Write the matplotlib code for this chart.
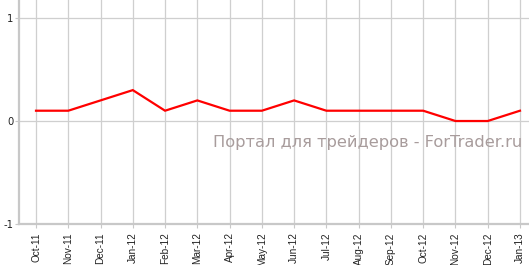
import matplotlib
matplotlib.use("Agg")
import matplotlib.pyplot as plt

categories = ["Oct-11", "Nov-11", "Dec-11", "Jan-12", "Feb-12", "Mar-12", "Apr-12", "May-12",
              "Jun-12", "Jul-12", "Aug-12", "Sep-12", "Oct-12", "Nov-12", "Dec-12", "Jan-13"]
values = [0.1, 0.1, 0.2, 0.3, 0.1, 0.2, 0.1, 0.1, 0.2, 0.1, 0.1, 0.1, 0.1, 0.0, 0.0, 0.1]
y_ticks = [-1, 0, 1]
watermark = "Портал для трейдеров - ForTrader.ru"

W, H = 529, 265
fig = plt.figure(figsize=(W / 100, H / 100), dpi=100)
ax = fig.add_axes([19 / W, 1 - 224 / H, 1 - 19 / W, 224 / H])

x = list(range(len(categories)))
ax.plot(x, values, color="#ff0000", lw=1.6, zorder=3, solid_joinstyle="miter")

ax.set_xlim(-0.527, 15.28)
ax.set_ylim(-1, 1.175)
ax.set_xticks(x)
ax.set_xticklabels(categories, rotation=90, fontsize=7.2, family="Liberation Sans", color="#222222")
ax.set_yticks(y_ticks)
ax.set_yticklabels([str(v) for v in y_ticks], fontsize=7.2, family="DejaVu Sans", color="#222222")

ax.grid(True, color="#cfcfcf", lw=0.9)
ax.set_axisbelow(True)
for s in ["top", "right"]:
    ax.spines[s].set_visible(False)
for s in ["left", "bottom"]:
    ax.spines[s].set_color("#c8c8c8")
    ax.spines[s].set_linewidth(1.6)
ax.tick_params(axis="both", length=3, color="#c8c8c8", width=0.8)
ax.tick_params(axis="x", pad=3)
ax.tick_params(axis="y", pad=1)

fig.text(522 / W, 1 - 142 / H, watermark, ha="right", va="center",
         fontsize=11.7, color="#a89c9c", family="DejaVu Sans")

fig.savefig("out.png", dpi=100)
